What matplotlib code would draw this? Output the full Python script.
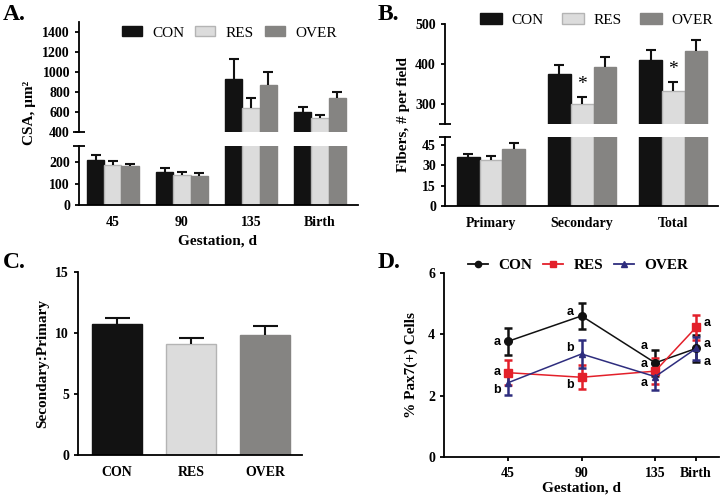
import numpy as np
import matplotlib
matplotlib.use('Agg')
import matplotlib.pyplot as plt
from matplotlib.patches import Patch
from matplotlib.lines import Line2D

plt.rcParams['font.family'] = ['Liberation Serif', 'DejaVu Serif']
plt.rcParams['font.weight'] = 'bold'
plt.rcParams['axes.labelweight'] = 'bold'
plt.rcParams['axes.linewidth'] = 1.3
plt.rcParams['xtick.major.width'] = 1.3
plt.rcParams['ytick.major.width'] = 1.3
plt.rcParams['xtick.major.size'] = 3
plt.rcParams['ytick.major.size'] = 3
plt.rcParams['xtick.labelsize'] = 10
plt.rcParams['ytick.labelsize'] = 10

#---------------- data ----------------
groups = ['CON', 'RES', 'OVER']
bar_colors = ['#121212', '#dcdcdc', '#858482']
bar_edges = ['#121212', '#b4b4b4', '#858482']

# A: CSA by gestation day
csa_days = ['45', '90', '135', 'Birth']
csa_con = [212, 152, 930, 605]
csa_res = [185, 142, 640, 540]
csa_over = [180, 135, 870, 740]
csa_con_se = [20, 21, 200, 50]
csa_res_se = [20, 11, 100, 35]
csa_over_se = [12, 13, 135, 65]

# B: fibers per field
fiber_types = ['Primary', 'Secondary', 'Total']
fib_con = [36, 375, 411]
fib_res = [34, 300, 333]
fib_over = [42, 392, 433]
fib_con_se = [2.5, 23, 25]
fib_res_se = [2.8, 18, 22]
fib_over_se = [4.5, 25, 28]
fib_star = [False, True, True]  # * over RES

# C: secondary:primary ratio
ratio_mean = [10.75, 9.1, 9.85]
ratio_se = [0.5, 0.47, 0.73]

# D: Pax7 cells
pax_x = [45, 90, 135, 160]
pax_xlabels = ['45', '90', '135', 'Birth']
pax_con = [3.77, 4.60, 3.07, 3.54]
pax_res = [2.75, 2.60, 2.80, 4.23]
pax_over = [2.42, 3.36, 2.62, 3.54]
pax_con_se = [0.44, 0.41, 0.43, 0.45]
pax_res_se = [0.40, 0.39, 0.43, 0.40]
pax_over_se = [0.40, 0.47, 0.43, 0.38]
pax_colors = ['#111111', '#e3202a', '#2e2d7e']
pax_markers = ['o', 's', '^']
# letters: x, y, text, side
let_x = [45, 45, 45, 90, 90, 90, 135, 135, 135, 160, 160, 160]
let_y = [3.75, 2.78, 2.2, 4.73, 3.56, 2.35, 3.63, 3.03, 2.4, 4.36, 3.67, 3.11]
let_txt = ['a', 'a', 'b', 'a', 'b', 'b', 'a', 'a', 'a', 'a', 'a', 'a']
let_side = [-1, -1, -1, -1, -1, -1, -1, -1, -1, 1, 1, 1]


def draw_bars(ax, x, vals, errs, width, i, capw):
    ax.bar(x, vals, width, color=bar_colors[i], edgecolor=bar_edges[i], linewidth=1)
    ax.errorbar(x, vals, yerr=[np.zeros(len(vals)), errs], fmt='none',
                ecolor='#111111', elinewidth=1.5, capsize=0)
    ax.plot(x, np.add(vals, errs), ls='none', marker='_', ms=capw, mew=1.5, color='#111111')


def style(ax, bottom=True):
    ax.spines['top'].set_visible(False)
    ax.spines['right'].set_visible(False)
    if not bottom:
        ax.spines['bottom'].set_visible(False)
        ax.set_xticks([])


def break_marks(ax_up, ax_lo):
    ax_up.plot([0], [0], marker='_', ms=9, mew=1.3, color='k', transform=ax_up.transAxes, clip_on=False)
    ax_lo.plot([0], [1], marker='_', ms=9, mew=1.3, color='k', transform=ax_lo.transAxes, clip_on=False)


fig = plt.figure(figsize=(7.22, 5.0), dpi=100)

#---------------- A ----------------
axA1 = fig.add_axes([0.1094, 0.736, 0.3864, 0.22])
axA2 = fig.add_axes([0.1094, 0.59, 0.3864, 0.118])
xa = np.arange(len(csa_days))
w = 0.25
for ax in (axA1, axA2):
    draw_bars(ax, xa - w, csa_con, csa_con_se, w, 0, 6.5)
    draw_bars(ax, xa, csa_res, csa_res_se, w, 1, 6.5)
    draw_bars(ax, xa + w, csa_over, csa_over_se, w, 2, 6.5)
    ax.set_xlim(-0.49, 3.55)
axA1.set_ylim(400, 1500)
axA1.set_yticks(range(400, 1401, 200))
axA2.set_ylim(0, 275)
axA2.set_yticks([0, 100, 200])
style(axA1, bottom=False)
style(axA2)
axA2.set_xticks(xa)
axA2.set_xticklabels(csa_days)
axA2.tick_params(axis='x', length=0, pad=8)
break_marks(axA1, axA2)
fig.text(30 / 722, 1 - 113 / 500, 'CSA, μm²', rotation=90, ha='center', va='center', fontsize=11)
fig.text(218 / 722, 1 - 241 / 500, 'Gestation, d', ha='center', va='center', fontsize=11)
hA = [Patch(facecolor=bar_colors[i], edgecolor=bar_edges[i] if i == 1 else bar_colors[i]) for i in range(3)]
fig.legend(hA, groups, loc='center left', bbox_to_anchor=(122 / 722, 1 - 33 / 500), ncol=3,
           frameon=False, prop={'weight': 'normal', 'size': 11}, handlelength=1.3, handleheight=0.65,
           handletextpad=0.7, columnspacing=0.7, borderaxespad=0, borderpad=0)

#---------------- B ----------------
axB1 = fig.add_axes([0.6163, 0.752, 0.3781, 0.2])
axB2 = fig.add_axes([0.6163, 0.588, 0.3781, 0.138])
xb = np.arange(len(fiber_types))
for ax in (axB1, axB2):
    draw_bars(ax, xb - w, fib_con, fib_con_se, w, 0, 6.5)
    draw_bars(ax, xb, fib_res, fib_res_se, w, 1, 6.5)
    draw_bars(ax, xb + w, fib_over, fib_over_se, w, 2, 6.5)
    ax.set_xlim(-0.505, 2.49)
axB1.set_ylim(250, 500)
axB1.set_yticks([300, 400, 500])
axB2.set_ylim(0, 51)
axB2.set_yticks([0, 15, 30, 45])
style(axB1, bottom=False)
style(axB2)
axB2.set_xticks(xb)
axB2.set_xticklabels(fiber_types)
axB2.tick_params(axis='x', length=0, pad=8)
break_marks(axB1, axB2)
for k in range(len(fiber_types)):
    if fib_star[k]:
        axB1.annotate('*', (xb[k], fib_res[k] + fib_res_se[k]), xytext=(0, 3), textcoords='offset points',
                      ha='center', va='bottom', fontsize=14, fontweight='normal')
fig.text(404 / 722, 1 - 115 / 500, 'Fibers, # per field', rotation=90, ha='center', va='center', fontsize=11)
fig.legend(hA, groups, loc='center left', bbox_to_anchor=(480 / 722, 1 - 20 / 500), ncol=3,
           frameon=False, prop={'weight': 'normal', 'size': 11}, handlelength=1.45, handleheight=0.7,
           handletextpad=0.6, columnspacing=1.2, borderaxespad=0, borderpad=0)

#---------------- C ----------------
axC = fig.add_axes([0.108, 0.09, 0.3102, 0.366])
xc = np.arange(len(groups))
for i in range(3):
    draw_bars(axC, [xc[i]], [ratio_mean[i]], [ratio_se[i]], 0.68, i, 18)
axC.set_xlim(-0.53, 2.5)
axC.set_ylim(0, 15)
axC.set_yticks([0, 5, 10, 15])
axC.set_xticks(xc)
axC.set_xticklabels(groups)
axC.tick_params(axis='x', length=0, pad=8)
style(axC)
fig.text(43 / 722, 1 - 363 / 500, 'Secondary:Primary', rotation=90, ha='center', va='center', fontsize=11)

#---------------- D ----------------
axD = fig.add_axes([0.615, 0.086, 0.3809, 0.368])
pax_vals = [pax_con, pax_res, pax_over]
pax_errs = [pax_con_se, pax_res_se, pax_over_se]
msizes = [5.5, 5.5, 5]
for i in range(3):
    axD.errorbar(pax_x, pax_vals[i], yerr=pax_errs[i], color=pax_colors[i], marker=pax_markers[i],
                 ms=msizes[i], lw=1.1, elinewidth=1.8, capsize=3, capthick=1.8, label=groups[i])
for k in range(len(let_x)):
    axD.annotate(let_txt[k], (let_x[k], let_y[k]), xytext=(8 * let_side[k], 0), textcoords='offset points',
                 ha='center', va='center', fontsize=9, family='Liberation Sans', fontweight='bold')
axD.set_xlim(6, 174)
axD.set_ylim(0, 6)
axD.set_yticks([0, 2, 4, 6])
axD.set_xticks(pax_x)
axD.set_xticklabels(pax_xlabels)
axD.tick_params(axis='x', pad=4)
style(axD)
axD.set_xlabel('Gestation, d', fontsize=11, fontweight='bold', labelpad=1)
fig.text(411 / 722, 1 - 365 / 500, '% Pax7(+) Cells', rotation=90, ha='center', va='center', fontsize=11)
hD = [Line2D([], [], color=pax_colors[i], marker=pax_markers[i], ms=4.5, lw=1.3) for i in range(3)]
fig.legend(hD, groups, loc='center left', bbox_to_anchor=(468 / 722, 1 - 265 / 500), ncol=3,
           frameon=False, prop={'weight': 'bold', 'size': 11}, handlelength=1.3,
           handletextpad=0.7, columnspacing=0.7, borderaxespad=0, borderpad=0)

#---------------- panel letters ----------------
for lab, px, py in [('A.', 3, 14), ('B.', 378, 14), ('C.', 3, 262), ('D.', 378, 262)]:
    fig.text(px / 722, 1 - py / 500, lab, ha='left', va='center', fontsize=17, fontweight='bold')

fig.savefig('out.png', dpi=100)
